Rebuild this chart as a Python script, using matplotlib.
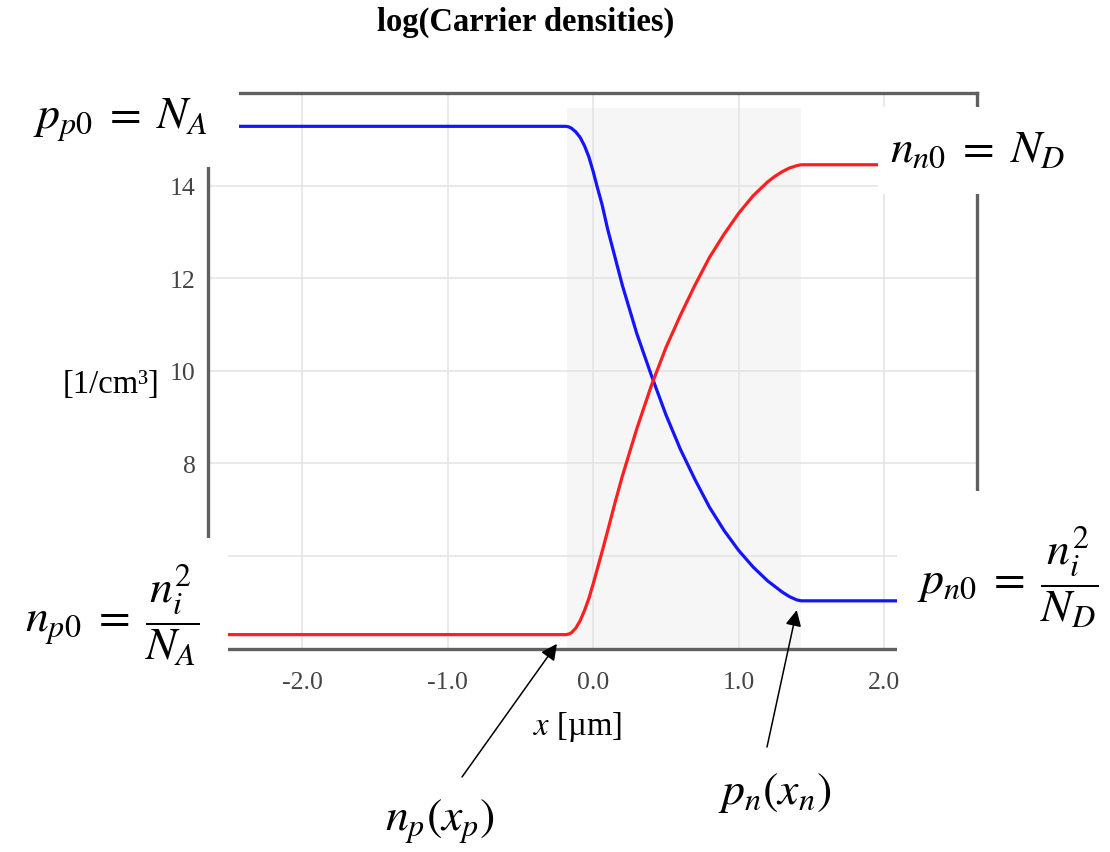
import matplotlib
matplotlib.use("Agg")
import matplotlib.pyplot as plt
from matplotlib.patches import Rectangle

W, H = 1110, 853

# position [um] and log10 of the carrier densities
x_um = [-2.65, -0.19, -0.17, -0.15, -0.12, -0.09, -0.06, -0.03, 0.00, 0.03,
        0.06, 0.10, 0.15, 0.20, 0.30, 0.40, 0.50, 0.60, 0.70, 0.80,
        0.90, 1.00, 1.10, 1.20, 1.25, 1.30, 1.35, 1.40, 1.43, 2.64]
log_p = [15.28, 15.28, 15.27, 15.24, 15.16, 15.04, 14.86, 14.62, 14.30, 13.94,
         13.60, 13.05, 12.45, 11.85, 10.80, 9.90, 9.05, 8.30, 7.65, 7.05,
         6.55, 6.12, 5.76, 5.46, 5.34, 5.22, 5.12, 5.05, 5.03, 5.03]
log_n = [4.30, 4.30, 4.31, 4.34, 4.44, 4.60, 4.82, 5.08, 5.40, 5.74,
         6.08, 6.55, 7.15, 7.72, 8.75, 9.68, 10.50, 11.20, 11.85, 12.45,
         12.95, 13.40, 13.78, 14.08, 14.20, 14.30, 14.38, 14.43, 14.45, 14.45]

depletion = (-0.18, 1.43)
xticks = [-2.0, -1.0, 0.0, 1.0, 2.0]
yticks = [4, 6, 8, 10, 12, 14, 16]
# 4, 6 and 16 sit under the label boxes, so they are not shown
ytick_labels = ['', '', '8', '10', '12', '14', '']

plt.rcParams['font.family'] = ['Liberation Serif', 'DejaVu Serif']
plt.rcParams['mathtext.fontset'] = 'stix'
plt.rcParams['axes.unicode_minus'] = False


def fx(px):
    return px / W


def fy(py):
    return 1 - py / H


fig = plt.figure(figsize=(W / 100, H / 100), dpi=100)
ax = fig.add_axes([fx(208), fy(649.5), (977 - 208) / W, (649.5 - 94) / H])

ax.axvspan(*depletion, ymax=0.973, color='#f6f6f6', lw=0, zorder=0)
ax.plot(x_um, log_p, color='#1414ff', lw=2.3)
ax.plot(x_um, log_n, color='#ff1f1f', lw=2.3)

ax.set_xlim(-2.65, 2.64)
ax.set_ylim(4, 16)
ax.set_xticks(xticks)
ax.set_xticklabels(['%.1f' % t for t in xticks])
ax.set_yticks(yticks)
ax.set_yticklabels(ytick_labels)
ax.grid(color='#e3e3e3', lw=1.1)
ax.set_axisbelow(True)
for s in ax.spines.values():
    s.set_color('#606060')
    s.set_linewidth(2.4)
ax.tick_params(length=0, labelsize=18.5, labelcolor='#444444')
ax.tick_params(axis='x', pad=16)
ax.tick_params(axis='y', pad=9)

fig.text(fx(526), fy(22), 'log(Carrier densities)', fontsize=23.5,
         fontweight='bold', ha='center', va='center')
fig.text(fx(111), fy(385), '[1/cm³]', fontsize=23.5, ha='center', va='center')
fig.text(fx(577), fy(727), '$x$ [µm]', fontsize=23.5, ha='center', va='center')

# white boxes behind the big labels
for x0, y0, x1, y1 in [(0, 80, 239, 168), (878, 108, W, 195),
                       (0, 539, 228, 720), (897, 492, W, 656)]:
    fig.add_artist(Rectangle((fx(x0), fy(y1)), (x1 - x0) / W, (y1 - y0) / H,
                             transform=fig.transFigure, facecolor='white',
                             edgecolor='none', zorder=2))

big = 33
fig.text(fx(120), fy(120), r'$p_{p0}\;=\;N_A$', fontsize=big,
         ha='center', va='center', zorder=3)
fig.text(fx(978), fy(151), r'$n_{n0}\;=\;N_D$', fontsize=big,
         ha='center', va='center', zorder=3)
fig.text(fx(112), fy(615), r'$n_{p0}\;=\;\dfrac{n_i^2}{N_A}$', fontsize=big,
         ha='center', va='center', zorder=3)
fig.text(fx(1008), fy(577), r'$p_{n0}\;=\;\dfrac{n_i^2}{N_D}$', fontsize=big,
         ha='center', va='center', zorder=3)
fig.text(fx(440), fy(822), r'$n_p(x_p)$', fontsize=big,
         ha='center', va='center', zorder=3)
fig.text(fx(775), fy(793), r'$p_n(x_n)$', fontsize=big,
         ha='center', va='center', zorder=3)

arrow = dict(arrowstyle='-|>', color='black', lw=1.1, mutation_scale=24,
             shrinkA=0, shrinkB=0)
ax.annotate('', xy=(x_um[1] - 0.06, log_n[1] - 0.2), xycoords='data',
            xytext=(fx(462), fy(778)), textcoords='figure fraction',
            arrowprops=arrow, annotation_clip=False)
ax.annotate('', xy=(x_um[-2] - 0.03, log_p[-2] - 0.2), xycoords='data',
            xytext=(fx(767), fy(748)), textcoords='figure fraction',
            arrowprops=arrow, annotation_clip=False)

fig.savefig('out.png', dpi=100)
